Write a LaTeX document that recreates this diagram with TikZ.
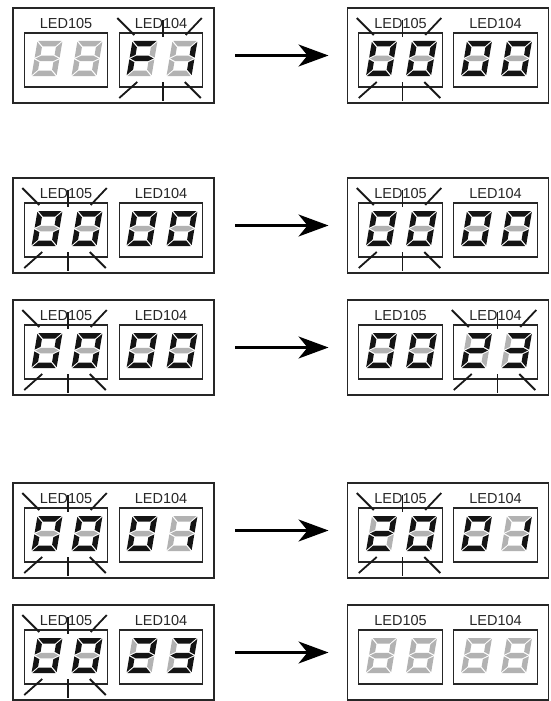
\documentclass[tikz,border=0pt]{standalone}
\usepackage{fontspec}
\setmainfont{Liberation Sans}
\usetikzlibrary{arrows.meta,calc}
\colorlet{on}{black!92}
\colorlet{off}{black!30}
\colorlet{frame}{black!85}
\tikzset{
  panel/.style={draw=frame,line width=1.2pt,minimum width=201pt,minimum height=95pt,inner sep=0pt,outer sep=0pt},
  ledbox/.style={draw=frame,line width=1.4pt,minimum width=83.5pt,minimum height=54pt,inner sep=0pt,outer sep=0pt},
  ledlabel/.style={inner sep=0pt,font=\fontsize{14.5}{16}\selectfont,text=black!85},
  flashline/.style={draw=black!90,line width=1.8pt},
  bigarrow/.style={draw=black,line width=2.2pt,-{Stealth[length=30pt,width=22pt,inset=9pt]},shorten <=21pt,shorten >=19pt}
}
% 7-segment digit: #1 position coordinate, #2..#8 colours of segments a..g
\newcommand\dgt[8]{%
 \begin{scope}[shift={(#1)},xslant=0.17]
  \fill[#2] (-11.6,-17.5) -- (11.6,-17.5) -- (6.1,-12) -- (-6.1,-12) -- cycle;
  \fill[#3] (12.5,-16.6) -- (12.5,-0.9) -- (7,-3.65) -- (7,-11.1) -- cycle;
  \fill[#4] (12.5,0.9) -- (12.5,16.6) -- (7,11.1) -- (7,3.65) -- cycle;
  \fill[#5] (-11.6,17.5) -- (11.6,17.5) -- (6.1,12) -- (-6.1,12) -- cycle;
  \fill[#6] (-12.5,0.9) -- (-12.5,16.6) -- (-7,11.1) -- (-7,3.65) -- cycle;
  \fill[#7] (-12.5,-16.6) -- (-12.5,-0.9) -- (-7,-3.65) -- (-7,-11.1) -- cycle;
  \fill[#8] (-11.6,0) -- (-6.1,-2.75) -- (6.1,-2.75) -- (11.6,0) -- (6.1,2.75) -- (-6.1,2.75) -- cycle;
 \end{scope}}
\newcommand\dZero[1]{\dgt{#1}{on}{on}{on}{on}{on}{on}{off}}
\newcommand\dOne[1]{\dgt{#1}{off}{on}{on}{off}{off}{off}{off}}
\newcommand\dTwo[1]{\dgt{#1}{on}{on}{off}{on}{on}{off}{on}}
\newcommand\dThree[1]{\dgt{#1}{on}{on}{on}{on}{off}{off}{on}}
\newcommand\dEff[1]{\dgt{#1}{on}{off}{off}{off}{on}{on}{on}}
\newcommand\dBlank[1]{\dgt{#1}{off}{off}{off}{off}{off}{off}{off}}
% panel: name, x, y
\newcommand\panel[3]{%
 \node[panel] (#1) at (#2,#3) {};
 \node[ledbox] (#1a) at ($(#1)+(-47.5,4.5)$) {};
 \node[ledbox] (#1b) at ($(#1)+(47.5,4.5)$) {};
 \node[ledlabel] (#1la) at ($(#1a.north)+(0,-9)$) {LED105};
 \node[ledlabel] (#1lb) at ($(#1b.north)+(0,-9)$) {LED104};
}
% two digits in a box: box name, left digit, right digit
\newcommand\pair[3]{%
 \coordinate (#1dl) at ($(#1)+(-19,-1.5)$);
 \coordinate (#1dr) at ($(#1)+(21,-1.5)$);
 #2{#1dl}#3{#1dr}}
\newcommand\flash[1]{%
 \draw[flashline] ($(#1.north west)+(-2,-15)$) -- ($(#1.north west)+(15,2)$);
 \draw[flashline] ($(#1.north east)+(-1,-15)$) -- ($(#1.north east)+(-17,2)$);
 \draw[flashline] ($(#1.south west)+(0,11)$) -- ($(#1.south west)+(18,-5)$);
 \draw[flashline] ($(#1.south east)+(-18,-5)$) -- ($(#1.south east)+(-2,11)$);
 \draw[flashline] ($(#1.north)+(2,-13)$) -- ($(#1.north)+(2,4)$);
 \draw[flashline] ($(#1.south)+(2,-5)$) -- ($(#1.south)+(2,14)$);
}
\begin{document}
\begin{tikzpicture}[x=1pt,y=-1pt]
\useasboundingbox[fill=white] (0,0) rectangle (550,701);
% row 1
\panel{Lone}{113.5}{55.5}
\pair{Lonea}{\dBlank}{\dBlank}
\pair{Loneb}{\dEff}{\dOne}
\flash{Loneb}
\panel{Rone}{448}{55.5}
\pair{Ronea}{\dZero}{\dZero}
\pair{Roneb}{\dZero}{\dZero}
\flash{Ronea}
\draw[bigarrow] (Lone) -- (Rone);
% row 2
\panel{Ltwo}{113.5}{225.5}
\pair{Ltwoa}{\dZero}{\dZero}
\pair{Ltwob}{\dZero}{\dZero}
\flash{Ltwoa}
\panel{Rtwo}{448}{225.5}
\pair{Rtwoa}{\dZero}{\dZero}
\pair{Rtwob}{\dZero}{\dZero}
\flash{Rtwoa}
\draw[bigarrow] (Ltwo) -- (Rtwo);
% row 3
\panel{Lthree}{113.5}{347.5}
\pair{Lthreea}{\dZero}{\dZero}
\pair{Lthreeb}{\dZero}{\dZero}
\flash{Lthreea}
\panel{Rthree}{448}{347.5}
\pair{Rthreea}{\dZero}{\dZero}
\pair{Rthreeb}{\dTwo}{\dThree}
\flash{Rthreeb}
\draw[bigarrow] (Lthree) -- (Rthree);
% row 4
\panel{Lfour}{113.5}{530.5}
\pair{Lfoura}{\dZero}{\dZero}
\pair{Lfourb}{\dZero}{\dOne}
\flash{Lfoura}
\panel{Rfour}{448}{530.5}
\pair{Rfoura}{\dTwo}{\dZero}
\pair{Rfourb}{\dZero}{\dOne}
\flash{Rfoura}
\draw[bigarrow] (Lfour) -- (Rfour);
% row 5
\panel{Lfive}{113.5}{652.5}
\pair{Lfivea}{\dZero}{\dZero}
\pair{Lfiveb}{\dTwo}{\dThree}
\flash{Lfivea}
\panel{Rfive}{448}{652.5}
\pair{Rfivea}{\dBlank}{\dBlank}
\pair{Rfiveb}{\dBlank}{\dBlank}
\draw[bigarrow] (Lfive) -- (Rfive);
\end{tikzpicture}
\end{document}
